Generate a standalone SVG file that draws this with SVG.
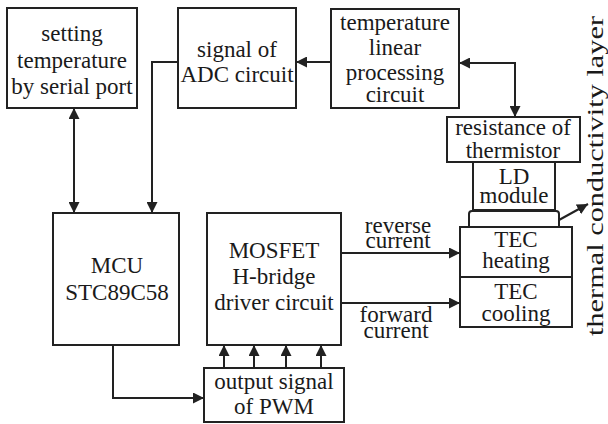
<svg xmlns="http://www.w3.org/2000/svg" width="608" height="424" viewBox="0 0 608 424">
<style>
.b{fill:#fff;stroke:#222;stroke-width:2}
.t{font-family:"Liberation Serif","Times New Roman",serif;font-size:23px;fill:#1a1a1a;text-anchor:middle}
.c{fill:none;stroke:#222;stroke-width:2}
</style>
<defs>
<marker id="ah" viewBox="0 0 10 10" refX="10" refY="5" markerWidth="11" markerHeight="11" orient="auto-start-reverse" markerUnits="userSpaceOnUse">
<path d="M0,0 L10,5 L0,10 z" fill="#222"/>
</marker>
</defs>
<rect width="608" height="424" fill="#fff"/>
<g id="setting">
<rect class="b" x="7" y="8" width="130" height="100"/>
<text class="t" x="72" y="41">setting</text>
<text class="t" x="72" y="68">temperature</text>
<text class="t" x="72" y="94">by serial port</text>
</g>
<g id="adc">
<rect class="b" x="178" y="8" width="118" height="100"/>
<text class="t" x="237" y="57">signal of</text>
<text class="t" x="237" y="82">ADC circuit</text>
</g>
<g id="linear">
<rect class="b" x="331" y="9" width="128" height="99"/>
<text class="t" x="395" y="30">temperature</text>
<text class="t" x="395" y="55">linear</text>
<text class="t" x="395" y="80">processing</text>
<text class="t" x="395" y="102">circuit</text>
</g>
<g id="thermistor">
<rect class="b" x="447" y="117" width="133" height="45"/>
<text class="t" x="513" y="135">resistance of</text>
<text class="t" x="513" y="158">thermistor</text>
</g>
<g id="ld">
<rect class="b" x="473" y="162" width="82" height="48"/>
<text class="t" x="514" y="184">LD</text>
<text class="t" x="514" y="203">module</text>
</g>
<g id="layer">
<path class="b" d="M469,227 L469,214 Q469,211 472,211 L556,211 Q559,211 559,214 L559,227 Z"/>
</g>
<g id="techeat">
<rect class="b" x="460" y="227" width="112" height="50"/>
<text class="t" x="516" y="247">TEC</text>
<text class="t" x="516" y="268">heating</text>
</g>
<g id="teccool">
<rect class="b" x="460" y="277" width="112" height="50"/>
<text class="t" x="516" y="299">TEC</text>
<text class="t" x="516" y="321">cooling</text>
</g>
<g id="mcu">
<rect class="b" x="53" y="213" width="126" height="132"/>
<text class="t" x="117" y="273">MCU</text>
<text class="t" x="117" y="300">STC89C58</text>
</g>
<g id="mosfet">
<rect class="b" x="207" y="213" width="134" height="132"/>
<text class="t" x="274" y="258">MOSFET</text>
<text class="t" x="274" y="284">H-bridge</text>
<text class="t" x="274" y="310">driver circuit</text>
</g>
<g id="pwm">
<rect class="b" x="204" y="368" width="140" height="54"/>
<text class="t" x="274" y="389">output signal</text>
<text class="t" x="274" y="414">of PWM</text>
</g>
<g id="layerlabel">
<text class="t" transform="translate(603,176) rotate(-90)" textLength="320" lengthAdjust="spacingAndGlyphs">thermal conductivity layer</text>
</g>
<g id="connectors">
<path class="c" d="M74,108 L74,213" marker-start="url(#ah)" marker-end="url(#ah)"/>
<path class="c" d="M178,62 L152,62 L152,213" marker-end="url(#ah)"/>
<path class="c" d="M331,62 L296,62" marker-end="url(#ah)"/>
<path class="c" d="M459,63 L515,63 L515,117" marker-start="url(#ah)" marker-end="url(#ah)"/>
<path class="c" d="M113,345 L113,398 L204,398" marker-end="url(#ah)"/>
<path class="c" d="M224,368 L224,345" marker-end="url(#ah)"/>
<path class="c" d="M254,368 L254,345" marker-end="url(#ah)"/>
<path class="c" d="M286,368 L286,345" marker-end="url(#ah)"/>
<path class="c" d="M321,368 L321,345" marker-end="url(#ah)"/>
<path class="c" d="M341,253 L460,253" marker-end="url(#ah)"/>
<path class="c" d="M341,303 L460,303" marker-end="url(#ah)"/>
<path class="c" d="M559,220 L588,204" marker-end="url(#ah)"/>
<text class="t" x="398" y="233">reverse</text>
<text class="t" x="398" y="248">current</text>
<text class="t" x="396" y="322">forward</text>
<text class="t" x="396" y="338">current</text>
</g>
</svg>
